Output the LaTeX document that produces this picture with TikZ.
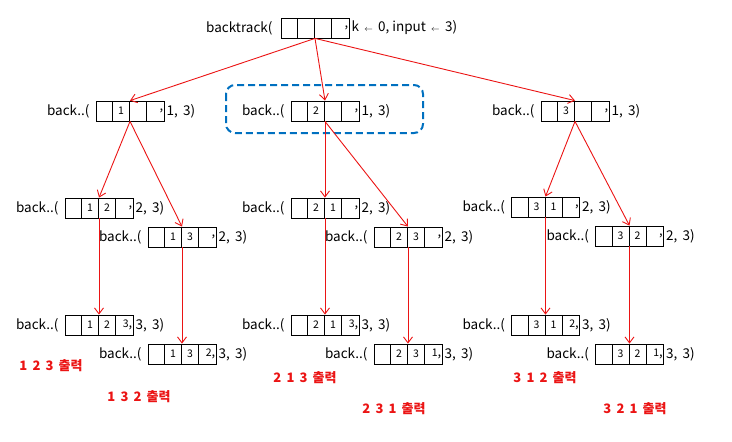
\documentclass[tikz,border=0pt]{standalone}
\usepackage{fontspec}
\setmainfont{Noto Sans CJK KR}
\usetikzlibrary{calc,arrows.meta}

\definecolor{edgered}{RGB}{235,20,20}
\definecolor{markblue}{RGB}{0,112,192}

\tikzset{
  cellbox/.style={draw, thick, minimum width=68pt, minimum height=20pt, inner sep=0pt},
  celltxt/.style={inner sep=1pt, font=\fontsize{10.5}{11}\selectfont},
  lbl/.style={inner sep=0pt, font=\fontsize{13.5}{15}\selectfont},
  result/.style={inner sep=0pt, text=edgered, font=\fontsize{13}{15}\bfseries\selectfont},
  link/.style={edgered, line width=0.9pt, -{Straight Barb[length=6pt, width=9pt]}},
}

\newcommand\cellcomma{{\fontsize{13}{13}\selectfont,}}

% one call: name, centre, cells 2..4, level
\newcommand\callnode[6]{%
  \node[cellbox] (#1) at (#2) {};
  \foreach \k in {1,2,3} \draw[thick] ($(#1.south west)+(17*\k,0)$) -- ++(0,-20);
  \node[celltxt] at ($(#1.west)+(25.5,0)$) {#3};
  \node[celltxt] at ($(#1.west)+(42.5,0)$) {#4};
  \node[celltxt,anchor=east] at (#1.east) {#5\cellcomma};
  \node[lbl,anchor=east] (#1-l) at ($(#1.west)+(-6,0)$) {back..(};
  \node[lbl,anchor=west] (#1-r) at ($(#1.east)+(2,0)$) {#6, \,3)};
}

\begin{document}
\begin{tikzpicture}[x=1pt, y=-1pt]
\useasboundingbox (0,0) rectangle (732,442);

% root
\node[cellbox] (root) at (315,28) {};
\foreach \k in {1,2,3} \draw[thick] ($(root.south west)+(17*\k,0)$) -- ++(0,-20);
\node[celltxt,anchor=east] at (root.east) {\cellcomma};
\node[lbl,anchor=east] (root-l) at ($(root.west)+(-8,0)$) {backtrack(};
\node[lbl,anchor=west] (root-r) at ($(root.east)+(2,0)$) {k \,{\footnotesize$\leftarrow$}\, 0, input \,{\footnotesize$\leftarrow$}\, 3)};

% level 1
\callnode{b1}{130,111}{1}{}{}{1}
\callnode{b2}{325,111}{2}{}{}{1}
\callnode{b3}{575,111}{3}{}{}{1}

% level 2
\callnode{b12}{99,208}{1}{2}{}{2}
\callnode{b13}{182,237}{1}{3}{}{2}
\callnode{b21}{325,208}{2}{1}{}{2}
\callnode{b23}{408,237}{2}{3}{}{2}
\callnode{b31}{545.5,207}{3}{1}{}{2}
\callnode{b32}{629.5,236}{3}{2}{}{2}

% level 3
\callnode{b123}{99,325}{1}{2}{3}{3}
\callnode{b132}{182,354}{1}{3}{2}{3}
\callnode{b213}{325,325}{2}{1}{3}{3}
\callnode{b231}{408,354}{2}{3}{1}{3}
\callnode{b312}{545.5,325}{3}{1}{2}{3}
\callnode{b321}{629.5,354}{3}{2}{1}{3}

% highlight
\draw[markblue, line width=2pt, dash pattern=on 7pt off 4pt, rounded corners=9pt] (226,85) rectangle (423,133);

% results
\node[result] (o123) at (51,366) {1 \,2 \,3 \,출력};
\node[result] (o132) at (139,397) {1 \,3 \,2 \,출력};
\node[result] (o213) at (305,378) {2 \,1 \,3 \,출력};
\node[result] (o231) at (394,409) {2 \,3 \,1 \,출력};
\node[result] (o312) at (545,378) {3 \,1 \,2 \,출력};
\node[result] (o321) at (635,409) {3 \,2 \,1 \,출력};

\path[link] (root.south) edge (b1.north);
\path[link] (root.south) edge (b2.north);
\path[link] (root.south) edge (b3.north);
\path[link] (b1.south) edge (b12.north);
\path[link] (b1.south) edge (b13.north);
\path[link] (b2.south) edge (b21.north);
\path[link] (b2.south) edge (b23.north);
\path[link] (b3.south) edge (b31.north);
\path[link] (b3.south) edge (b32.north);
\path[link] (b12.south) edge (b123.north);
\path[link] (b13.south) edge (b132.north);
\path[link] (b21.south) edge (b213.north);
\path[link] (b23.south) edge (b231.north);
\path[link] (b31.south) edge (b312.north);
\path[link] (b32.south) edge (b321.north);
\end{tikzpicture}
\end{document}
